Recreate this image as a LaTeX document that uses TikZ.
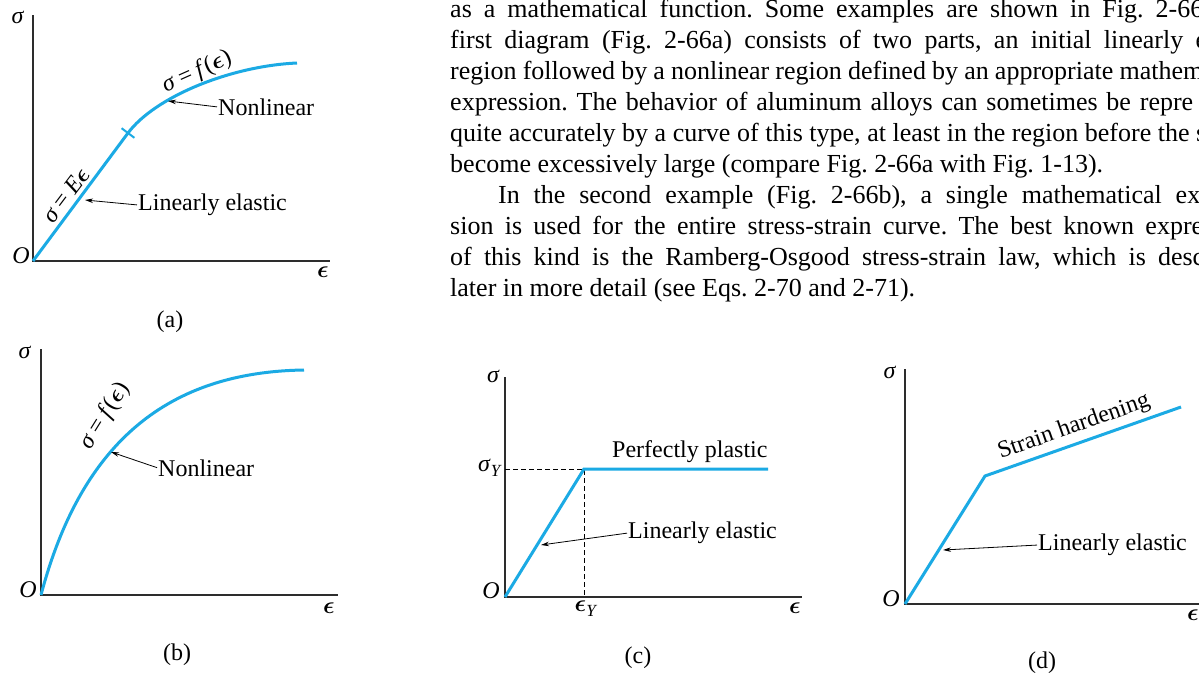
\RequirePackage{fix-cm}
\documentclass[tikz,border=0pt]{standalone}
\usepackage{fontspec}
\setmainfont{Liberation Serif}
\usetikzlibrary{arrows.meta}
\definecolor{curveblue}{RGB}{27,170,228}
\definecolor{axisgray}{RGB}{45,45,45}
\newcommand{\sgm}{\textit{σ}}
\newcommand{\eps}{{\boldmath$\epsilon$}}
\newcommand{\subY}{\raisebox{-5pt}{\fontsize{17}{17}\selectfont\textit{Y}}}
\newcommand{\eqsp}{\hspace{5pt}=\hspace{5pt}}
\frenchspacing
\begin{document}
\begin{tikzpicture}[x=1pt,y=-1pt,
  axis/.style={draw=axisgray,line width=1.3pt},
  curve/.style={draw=curveblue,line width=3pt},
  tickmark/.style={draw=curveblue,line width=2pt},
  lbl/.style={font=\fontsize{24}{28}\selectfont,inner sep=0pt},
  para/.style={font=\fontsize{26}{31}\selectfont,inner sep=0pt,anchor=base west},
  pointer/.style={draw=black,line width=0.8pt,shorten <=1pt,-{Stealth[length=8pt,width=4.5pt]}},
  guide/.style={draw=black,line width=0.9pt,dash pattern=on 5pt off 3pt}]
\useasboundingbox (0,0) rectangle (1199,672);
\fill[white] (0,0) rectangle (1199,672);

% ---------------- paragraph ----------------
\node[para] (p1) at (450,17) {\makebox[753pt][s]{as a mathematical function. Some examples are shown in Fig. 2-66}};
\node[para] (p2) at (450,48) {\makebox[757pt][s]{first diagram (Fig. 2-66a) consists of two parts, an initial linearly e}};
\node[para] (p3) at (450,79) {\makebox[753pt][s]{region followed by a nonlinear region defined by an appropriate mathem}};
\node[para] (p4) at (450,110) {\makebox[743pt][s]{expression. The behavior of aluminum alloys can sometimes be repre}};
\node[para] (p5) at (450,141) {\makebox[756pt][s]{quite accurately by a curve of this type, at least in the region before the s}};
\node[para] (p6) at (450,172) {become excessively large (compare Fig. 2-66a with Fig. 1-13).};
\node[para] (p7) at (498,203) {\makebox[702pt][s]{In the second example (Fig. 2-66b), a single mathematical ex}};
\node[para] (p8) at (450,234) {\makebox[753pt][s]{sion is used for the entire stress-strain curve. The best known expre}};
\node[para] (p9) at (450,265) {\makebox[754pt][s]{of this kind is the Ramberg-Osgood stress-strain law, which is desc}};
\node[para] (p10) at (450,296) {later in more detail (see Eqs. 2-70 and 2-71).};

% ---------------- (a) ----------------
\coordinate (aTop) at (33,15);
\coordinate (aO) at (33,261);
\coordinate (aRight) at (330,261);
\coordinate (aK) at (128,133);
\coordinate (aEnd) at (297,63);
\draw[axis] (aTop) -- (aO) -- (aRight);
\draw[curve] (aO) -- (aK) .. controls (155,97) and (230,66) .. (aEnd);
\draw[tickmark] (121.6,128.2) -- (134.4,137.8);
\node[lbl] (aSig) at (18,17) {\sgm};
\node[lbl,anchor=mid east] (aOl) at (30,261) {\textit{O}};
\node[lbl] (aEps) at (323,272) {\eps};
\node[lbl,rotate=53] (aLin) at (66,195) {\sgm\eqsp\textit{E}\eps};
\node[lbl,rotate=24] (aFun) at (197,72) {\sgm\eqsp\textit{f}(\eps)};
\node[lbl,anchor=west] (aNl) at (218,107) {Nonlinear};
\node[lbl,anchor=west] (aLe) at (138,205) {Linearly elastic};
\coordinate (aNlTip) at (168,101);
\coordinate (aLeTip) at (85,200);
\draw[pointer] (aNl.west) -- (aNlTip);
\draw[pointer] (aLe.west) -- (aLeTip);
\node[lbl] (aCap) at (170,322) {(a)};

% ---------------- (b) ----------------
\coordinate (bTop) at (41,349);
\coordinate (bO) at (41,595);
\coordinate (bRight) at (338,595);
\coordinate (bEnd) at (304,370);
\draw[axis] (bTop) -- (bO) -- (bRight);
\draw[curve] (bO) .. controls (82,440) and (170,372) .. (bEnd);
\node[lbl] (bSig) at (25,352) {\sgm};
\node[lbl,anchor=mid east] (bOl) at (37,595) {\textit{O}};
\node[lbl] (bEps) at (329,608) {\eps};
\node[lbl,rotate=58] (bFun) at (105,416) {\sgm\eqsp\textit{f}(\eps)};
\node[lbl,anchor=west] (bNl) at (158,468) {Nonlinear};
\coordinate (bNlTip) at (111,452);
\draw[pointer] (bNl.west) -- (bNlTip);
\node[lbl] (bCap) at (177,655) {(b)};

% ---------------- (c) ----------------
\coordinate (cTop) at (505,377);
\coordinate (cO) at (505,597);
\coordinate (cRight) at (802,597);
\coordinate (cY) at (584,469);
\coordinate (cYax) at (505,469);
\coordinate (cYbot) at (584,597);
\coordinate (cEnd) at (768,469);
\draw[axis] (cTop) -- (cO) -- (cRight);
\draw[guide] (cYax) -- (cY) -- (cYbot);
\draw[curve] (cO) -- (cY) -- (cEnd);
\node[lbl,anchor=mid east] (cSig) at (500,380) {\sgm};
\node[lbl,anchor=mid east] (cSigY) at (502,469) {\sgm\subY};
\node[lbl,anchor=mid east] (cOl) at (500,596) {\textit{O}};
\node[lbl,anchor=north] (cEpsY) at (586,601) {\eps\subY};
\node[lbl] (cEps) at (795,608) {\eps};
\node[lbl,anchor=west] (cPp) at (612,452) {Perfectly plastic};
\node[lbl,anchor=west] (cLe) at (628,533) {Linearly elastic};
\coordinate (cLeTip) at (541,545);
\draw[pointer] (cLe.west) -- (cLeTip);
\node[lbl] (cCap) at (638,658) {(c)};

% ---------------- (d) ----------------
\coordinate (dTop) at (905,369);
\coordinate (dO) at (905,604);
\coordinate (dRight) at (1205,604);
\coordinate (dK) at (985,476);
\coordinate (dEnd) at (1181,407);
\draw[axis] (dTop) -- (dO) -- (dRight);
\draw[curve] (dO) -- (dK) -- (dEnd);
\node[lbl] (dSig) at (890,372) {\sgm};
\node[lbl,anchor=mid east] (dOl) at (900,604) {\textit{O}};
\node[lbl] (dEps) at (1193,615) {\eps};
\node[lbl,rotate=19.4] (dSh) at (1074,427) {Strain hardening};
\node[lbl,anchor=west] (dLe) at (1038,545) {Linearly elastic};
\coordinate (dLeTip) at (943,550);
\draw[pointer] (dLe.west) -- (dLeTip);
\node[lbl] (dCap) at (1042,663) {(d)};
\end{tikzpicture}
\end{document}
